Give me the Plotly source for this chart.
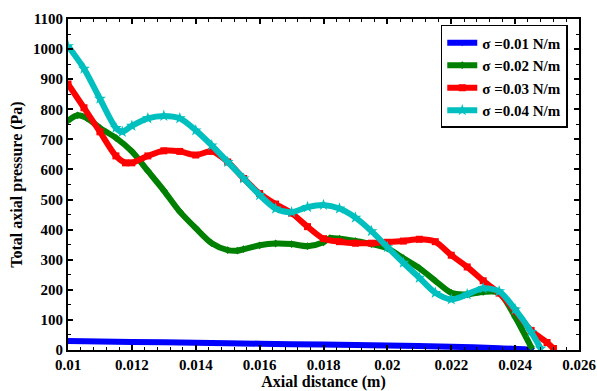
import plotly.graph_objects as go

# sigma = 0.01 N/m
x1 = [0.0100, 0.0120, 0.0140, 0.0160, 0.0180, 0.0200, 0.0220, 0.0235, 0.0245]
p1 = [30, 27, 24, 21, 18, 15, 11, 6, 1]

# sigma = 0.02 N/m
x2 = [0.0100, 0.0103, 0.0106, 0.0110, 0.0115, 0.0120, 0.0125, 0.0130, 0.0135, 0.0140,
      0.0145, 0.0150, 0.0153, 0.0155, 0.0160, 0.0165, 0.0170, 0.0175, 0.0180, 0.0182,
      0.0185, 0.0190, 0.0195, 0.0200, 0.0205, 0.0210, 0.0215, 0.0220, 0.0225, 0.0230,
      0.0235, 0.0240, 0.0245]
p2 = [762, 780, 770, 738, 705, 660, 595, 530, 460, 405,
      355, 332, 330, 335, 348, 354, 352, 345, 358, 372,
      370, 362, 352, 338, 305, 272, 230, 190, 185, 193,
      190, 110, 10]

# sigma = 0.03 N/m
x3 = [0.0100, 0.0105, 0.0110, 0.0115, 0.0118, 0.0120, 0.0125, 0.0130, 0.0135, 0.0140,
      0.0145, 0.0150, 0.0155, 0.0160, 0.0165, 0.0170, 0.0175, 0.0180, 0.0185, 0.0190,
      0.0195, 0.0200, 0.0205, 0.0210, 0.0215, 0.0220, 0.0225, 0.0230, 0.0235, 0.0240,
      0.0245, 0.0250, 0.0252]
p3 = [884, 805, 725, 645, 622, 622, 645, 662, 660, 648,
      660, 625, 570, 520, 485, 455, 410, 370, 360, 355,
      355, 358, 362, 368, 360, 315, 276, 230, 189, 130,
      65, 25, 5]

# sigma = 0.04 N/m
x4 = [0.0100, 0.0105, 0.0110, 0.0115, 0.0117, 0.0120, 0.0125, 0.0130, 0.0135, 0.0140,
      0.0145, 0.0150, 0.0155, 0.0160, 0.0165, 0.0170, 0.0175, 0.0180, 0.0185, 0.0190,
      0.0195, 0.0200, 0.0205, 0.0210, 0.0215, 0.0220, 0.0225, 0.0230, 0.0235, 0.0240,
      0.0245, 0.0248]
p4 = [1010, 935, 835, 738, 725, 745, 770, 778, 770, 730,
      680, 625, 570, 515, 470, 458, 475, 482, 470, 440,
      395, 342, 290, 240, 190, 168, 185, 205, 195, 135,
      60, 5]

names = ["σ =0.01 N/m", "σ =0.02 N/m", "σ =0.03 N/m", "σ =0.04 N/m"]
xs = [x1, x2, x3, x4]
ps = [p1, p2, p3, p4]
colors = ["#0000ff", "#008000", "#ff0000", "#00bfbf"]
symbols = ["triangle-down", "diamond", "square", "star"]
msizes = [7, 6, 7, 9]

x_ticks = [0.01, 0.012, 0.014, 0.016, 0.018, 0.02, 0.022, 0.024, 0.026]
x_ticklabels = ["0.01", "0.012", "0.014", "0.016", "0.018", "0.02", "0.022", "0.024", "0.026"]
y_ticks = [0, 100, 200, 300, 400, 500, 600, 700, 800, 900, 1000, 1100]

FONT = "'Liberation Serif', 'Times New Roman', Times, serif"

fig = go.Figure()
for x, p, n, c, s, ms in zip(xs, ps, names, colors, symbols, msizes):
    fig.add_trace(go.Scatter(
        x=x, y=p, name="<b>" + n + "</b>", mode="lines+markers",
        line=dict(color=c, width=6, shape="spline", smoothing=0.8),
        marker=dict(symbol=s, size=ms, color=c, line=dict(width=0)),
    ))

axis_common = dict(
    showline=True, linecolor="black", linewidth=2, mirror="allticks",
    ticks="inside", ticklen=5, tickwidth=1.5, tickcolor="black",
    showgrid=False, zeroline=False, automargin=False,
    tickfont=dict(family=FONT, size=15, color="black", weight="bold"),
)

fig.update_xaxes(
    range=[0.01, 0.026], tickvals=x_ticks, ticktext=x_ticklabels,
    minor=dict(dtick=0.0004, tick0=0.01, ticks="inside", ticklen=3, tickcolor="black", tickwidth=1),
    title=dict(text="<b>Axial distance (m)</b>", font=dict(family=FONT, size=16, color="black"), standoff=2),
    **axis_common,
)
fig.update_yaxes(
    range=[0, 1100], tickvals=y_ticks,
    minor=dict(dtick=50, tick0=0, ticks="inside", ticklen=3, tickcolor="black", tickwidth=1),
    title=dict(text="<b>Total axial pressure (Pa)</b>", font=dict(family=FONT, size=16, color="black"), standoff=6),
    **axis_common,
)

fig.update_layout(
    width=597, height=391,
    margin=dict(l=68, r=18, t=19, b=41),
    plot_bgcolor="white", paper_bgcolor="white",
    font=dict(family=FONT, color="black"),
    legend=dict(
        x=0.978, y=0.982, xanchor="right", yanchor="top",
        bgcolor="white", bordercolor="black", borderwidth=1.5,
        font=dict(family=FONT, size=15, color="black"),
        tracegroupgap=0, itemwidth=30,
    ),
)

fig.write_html("out.html")
